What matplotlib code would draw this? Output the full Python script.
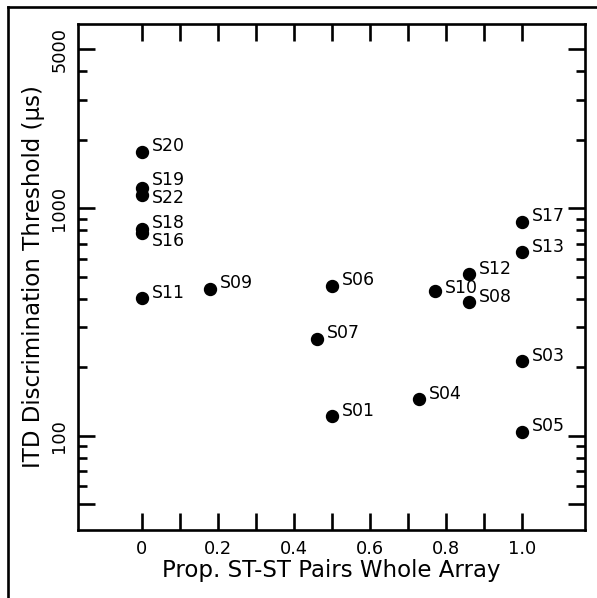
import matplotlib
matplotlib.use("Agg")
import matplotlib.pyplot as plt
from matplotlib.ticker import FixedLocator, NullFormatter, FixedFormatter
from matplotlib.lines import Line2D

# ---- data ----
subjects = ["S20", "S19", "S22", "S18", "S16", "S11", "S09", "S06", "S07",
            "S01", "S04", "S10", "S12", "S08", "S17", "S13", "S03", "S05"]
prop_st = [0.0, 0.0, 0.0, 0.0, 0.0, 0.0, 0.18, 0.50, 0.46,
           0.50, 0.73, 0.77, 0.86, 0.86, 1.0, 1.0, 1.0, 1.0]
itd_threshold = [1770, 1228, 1143, 809, 776, 402, 442, 457, 267,
                 122, 145, 435, 513, 386, 871, 641, 213, 104]

x_ticks = [0, 0.1, 0.2, 0.3, 0.4, 0.5, 0.6, 0.7, 0.8, 0.9, 1.0]
x_ticklabels = ["0", "", "0.2", "", "0.4", "", "0.6", "", "0.8", "", "1.0"]
y_major = [50, 100, 1000, 5000]
y_major_labels = ["", "100", "1000", "5000"]
y_minor = [60, 70, 80, 90, 200, 300, 400, 500, 600, 700, 800, 900,
           2000, 3000, 4000]

# label offsets (points) for text placement
default_off = (7.2, 4.0)
label_off = {"S19": (7.2, 6.0), "S22": (7.2, -1.8), "S16": (7.2, -5.5),
             "S18": (7.2, 4.6), "S10": (7.2, 2.0)}

plt.rcParams['font.family'] = ['DejaVu Sans']
fig = plt.figure(figsize=(5.97, 5.98), dpi=100)
ax = fig.add_axes([0.1307, 0.1137, 0.8493, 0.8462])

ax.plot(prop_st, itd_threshold, linestyle='none', marker='o',
        markersize=8.6, color='black')

for s, xv, yv in zip(subjects, prop_st, itd_threshold):
    dx, dy = label_off.get(s, default_off)
    ax.annotate(s, (xv, yv), xytext=(dx, dy), textcoords='offset points',
                ha='left', va='center', fontsize=12.5)

ax.set_yscale('log')
ax.set_xlim(-0.168, 1.166)
ax.set_ylim(38.6, 6450)

ax.xaxis.set_major_locator(FixedLocator(x_ticks))
ax.xaxis.set_major_formatter(FixedFormatter(x_ticklabels))
ax.yaxis.set_major_locator(FixedLocator(y_major))
ax.yaxis.set_major_formatter(FixedFormatter(y_major_labels))
ax.yaxis.set_minor_locator(FixedLocator(y_minor))
ax.yaxis.set_minor_formatter(NullFormatter())

for sp in ax.spines.values():
    sp.set_linewidth(1.9)

ax.tick_params(axis='both', which='major', direction='in', length=12.5,
               width=1.9, top=True, right=True, labelsize=12.8)
ax.tick_params(axis='both', which='minor', direction='in', length=6.5,
               width=1.9, top=True, right=True)
ax.tick_params(axis='x', which='major', pad=7)
ax.tick_params(axis='y', which='major', pad=7)
for lbl in ax.get_yticklabels():
    lbl.set_rotation(90)
    lbl.set_va('center')

ax.set_xlabel("Prop. ST-ST Pairs Whole Array", fontsize=16.5, labelpad=1)
ax.set_ylabel("ITD Discrimination Threshold (\u03bcs)", fontsize=16.5,
              labelpad=4)

# outer frame lines (top and left)
fig.add_artist(Line2D([8 / 597, 1], [1 - 7 / 598, 1 - 7 / 598],
                      transform=fig.transFigure, color='black', lw=1.9))
fig.add_artist(Line2D([8 / 597, 8 / 597], [0, 1 - 7 / 598],
                      transform=fig.transFigure, color='black', lw=1.9))

fig.savefig("out.png", dpi=100)
